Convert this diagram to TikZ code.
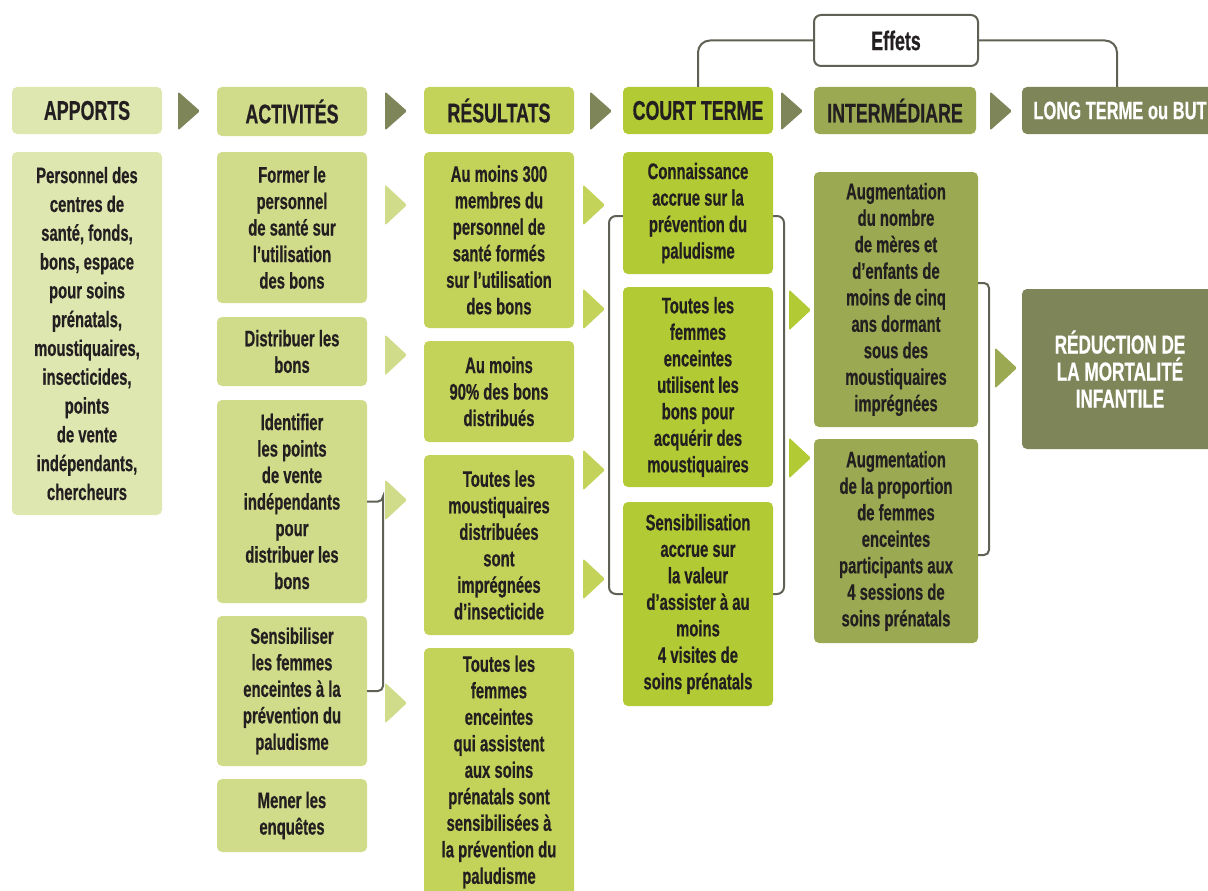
\documentclass[tikz,border=0pt]{standalone}
\usepackage{fontspec}
\setmainfont{Liberation Sans}[FakeStretch=0.66,BoldFeatures={FakeBold=0.5}]
\usetikzlibrary{calc}
\definecolor{cA}{HTML}{DFE7B0}
\definecolor{cB}{HTML}{D0DC8A}
\definecolor{cC}{HTML}{C3D35A}
\definecolor{cD}{HTML}{B2CA34}
\definecolor{cE}{HTML}{9BAA52}
\definecolor{cF}{HTML}{7E8559}
\definecolor{ink}{HTML}{231F20}
\definecolor{brkc}{HTML}{5E6255}
\newcommand\bx[7]{\node[#2, minimum width=#5-#3, minimum height=#6-#4] (#1) at ({(#3+#5)/2},{(#4+#6)/2}) {#7};}
\newcommand\tri[4]{\fill[#3, rounded corners=1.5pt] (#1,{#2-#4}) -- ({#1+22},#2) -- (#1,{#2+#4}) -- cycle;}
\begin{document}
\begin{tikzpicture}[x=1pt,y=-1pt,
  box/.style={fill=#1, rounded corners=5pt, inner sep=0pt, align=center, text=ink, font=\fontsize{22.5}{26.5}\selectfont\bfseries},
  head/.style={fill=#1, rounded corners=5pt, inner sep=0pt, align=center, text=ink, font=\fontsize{27}{28}\selectfont\bfseries},
  brk/.style={draw=brkc, line width=2pt}]
\useasboundingbox (0,0) rectangle (1208,891);
% headers
\bx{hA}{head=cA}{12}{87}{162}{134}{APPORTS}
\bx{hB}{head=cB}{217}{87}{367}{136}{ACTIVITÉS}
\bx{hC}{head=cC}{424}{87}{574}{134}{RÉSULTATS}
\bx{hD}{head=cD}{623}{87}{773}{134}{COURT TERME}
\bx{hE}{head=cE}{814}{87}{976}{134}{INTERMÉDIARE}
\bx{hF}{head=cF, text=white, font=\fontsize{25}{26}\selectfont\bfseries}{1022}{87}{1218}{134}{LONG TERME ou BUT}
\bx{eff}{head=white, draw=brkc, line width=2pt, rounded corners=7pt, font=\fontsize{27}{28}\selectfont\bfseries}{814}{15}{978}{66}{Effets}
\coordinate (topF) at (1117,87);
\draw[brk, rounded corners=12pt] (hD.north) |- (eff.west);
\draw[brk, rounded corners=12pt] (eff.east) -| (topF);
\tri{178}{111}{cF}{19.5}
\tri{385}{111}{cF}{19.5}
\tri{590}{111}{cF}{19.5}
\tri{781}{111}{cF}{19.5}
\tri{990}{111}{cF}{19.5}
% col 1
\bx{pA}{box=cA, font=\fontsize{22.5}{28.8}\selectfont\bfseries}{12}{152}{162}{515}{Personnel des\\centres de\\santé, fonds,\\bons, espace\\pour soins\\prénatals,\\moustiquaires,\\insecticides,\\points\\de vente\\indépendants,\\chercheurs}
% col 2
\bx{a1}{box=cB}{217}{152}{367}{303}{Former le\\personnel\\de santé sur\\l’utilisation\\des bons}
\bx{a2}{box=cB}{217}{317}{367}{386}{Distribuer les\\bons}
\bx{a3}{box=cB}{217}{400}{367}{603}{Identifier\\les points\\de vente\\indépendants\\pour\\distribuer les\\bons}
\bx{a4}{box=cB}{217}{616}{367}{766}{Sensibiliser\\les femmes\\enceintes à la\\prévention du\\paludisme}
\bx{a5}{box=cB}{217}{779}{367}{852}{Mener les\\enquêtes}
\coordinate (b2r) at (383,0);
\draw[brk, rounded corners=5pt] (a3.east) -| (b2r |- a3.east) |- (a4.east);
\tri{385}{205}{cB}{20.5}
\tri{385}{355}{cB}{20.5}
\tri{385}{500}{cB}{20.5}
\tri{385}{703}{cB}{20.5}
% col 3
\bx{r1}{box=cC}{424}{152}{574}{328}{Au moins 300\\membres du\\personnel de\\santé formés\\sur l’utilisation\\des bons}
\bx{r2}{box=cC}{424}{341}{574}{442}{Au moins\\90\% des bons\\distribués}
\bx{r3}{box=cC}{424}{455}{574}{635}{Toutes les\\moustiquaires\\distribuées\\sont\\imprégnées\\d’insecticide}
\bx{r4}{box=cC}{424}{648}{574}{896}{Toutes les\\femmes\\enceintes\\qui assistent\\aux soins\\prénatals sont\\sensibilisées à\\la prévention du\\paludisme}
\tri{583}{205}{cC}{20.5}
\tri{583}{309}{cC}{20.5}
\tri{583}{470}{cC}{20.5}
\tri{583}{579}{cC}{20.5}
% col 4
\draw[brk, rounded corners=7pt] (609,216) rectangle (784,594);
\bx{c1}{box=cD}{623}{152}{773}{274}{Connaissance\\accrue sur la\\prévention du\\paludisme}
\bx{c2}{box=cD}{623}{287}{773}{487}{Toutes les\\femmes\\enceintes\\utilisent les\\bons pour\\acquérir des\\moustiquaires}
\bx{c3}{box=cD}{623}{502}{773}{706}{Sensibilisation\\accrue sur\\la valeur\\d’assister à au\\moins\\4 visites de\\soins prénatals}
\tri{789}{310}{cD}{20.5}
\tri{789}{458}{cD}{20.5}
% col 5
\bx{i1}{box=cE}{814}{172}{978}{427}{Augmentation\\du nombre\\de mères et\\d’enfants de\\moins de cinq\\ans dormant\\sous des\\moustiquaires\\imprégnées}
\bx{i2}{box=cE}{814}{439}{978}{643}{Augmentation\\de la proportion\\de femmes\\enceintes\\participants aux\\4 sessions de\\soins prénatals}
\coordinate (b5t) at (989,283);
\coordinate (b5b) at (989,555);
\draw[brk, rounded corners=5pt] (i1.east |- b5t) -- (b5t) -- (b5b) -- (i2.east |- b5b);
\tri{995}{368}{cE}{20.5}
% col 6
\bx{goal}{box=cF, text=white, font=\fontsize{26}{27}\selectfont\bfseries}{1022}{289}{1218}{449}{RÉDUCTION DE\\LA MORTALITÉ\\INFANTILE}
\end{tikzpicture}
\end{document}
